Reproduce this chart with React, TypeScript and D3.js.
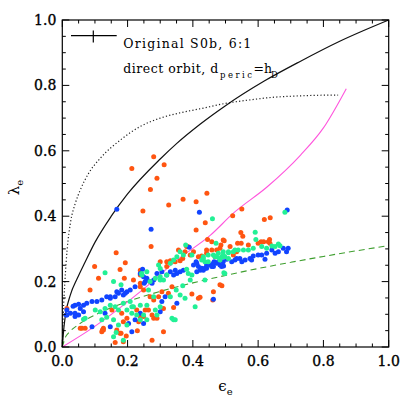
import React from 'react';
import * as d3 from 'd3';

const W = 409;
const H = 409;
const PLOT = { left: 62.3, right: 388.7, top: 20, bottom: 347 };

const xTicks = [0, 0.2, 0.4, 0.6, 0.8, 1.0];
const yTicks = [0, 0.2, 0.4, 0.6, 0.8, 1.0];
const tickLabels = ['0.0', '0.2', '0.4', '0.6', '0.8', '1.0'];

const solidE = [0, 0.005, 0.01, 0.025, 0.046, 0.07, 0.1, 0.15, 0.2, 0.3, 0.35, 0.423, 0.5, 0.62, 0.73, 0.85, 1.0];
const solidL = [0, 0.06, 0.1, 0.16, 0.21, 0.26, 0.32, 0.4, 0.468, 0.575, 0.622, 0.682, 0.738, 0.814, 0.874, 0.935, 1.0];

const dottedE = [0, 0.003, 0.008, 0.015, 0.025, 0.04, 0.055, 0.08, 0.117, 0.178, 0.24, 0.3, 0.36, 0.42, 0.5, 0.577, 0.65, 0.73, 0.8, 0.845];
const dottedL = [0, 0.1, 0.2, 0.3, 0.38, 0.44, 0.48, 0.53, 0.578, 0.633, 0.675, 0.7, 0.716, 0.728, 0.745, 0.756, 0.764, 0.768, 0.77, 0.77];

const magentaE = [0, 0.095, 0.2, 0.264, 0.35, 0.454, 0.525, 0.628, 0.73, 0.8, 0.87];
const magentaL = [0, 0.06, 0.138, 0.19, 0.265, 0.342, 0.41, 0.49, 0.587, 0.67, 0.79];

const dashedE = [0, 0.01, 0.02, 0.05, 0.1, 0.15, 0.2, 0.3, 0.4, 0.5, 0.6, 0.7, 0.8, 0.9, 1.0];
const dashedL = [0, 0.031, 0.044, 0.069, 0.098, 0.12, 0.139, 0.17, 0.196, 0.219, 0.24, 0.259, 0.277, 0.294, 0.31];

// Scatter data [epsilon, lambda]
const orangePts: [number, number][] = [
  [0.28, 0.582], [0.213, 0.546], [0.312, 0.557], [0.29, 0.516], [0.27, 0.482], [0.37, 0.452], [0.443, 0.47],
  [0.41, 0.444], [0.326, 0.434], [0.247, 0.416], [0.438, 0.38], [0.41, 0.358],
  [0.55, 0.422], [0.522, 0.401], [0.637, 0.395], [0.619, 0.39], [0.496, 0.325], [0.547, 0.35], [0.553, 0.339],
  [0.548, 0.317], [0.617, 0.322], [0.635, 0.329], [0.636, 0.317], [0.489, 0.187],
  [0.631, 0.322], [0.609, 0.322], [0.6, 0.317], [0.57, 0.312], [0.537, 0.317], [0.483, 0.302], [0.463, 0.169], [0.422, 0.152],
  [0.272, 0.307], [0.445, 0.329], [0.486, 0.312], [0.384, 0.307], [0.376, 0.291], [0.392, 0.281], [0.369, 0.271],
  [0.361, 0.264], [0.346, 0.261], [0.331, 0.264], [0.32, 0.261], [0.442, 0.287], [0.458, 0.297], [0.468, 0.276],
  [0.427, 0.278], [0.483, 0.19], [0.461, 0.144], [0.417, 0.149], [0.397, 0.162], [0.305, 0.169], [0.295, 0.154],
  [0.325, 0.164], [0.269, 0.154], [0.275, 0.098], [0.29, 0.088], [0.28, 0.088], [0.341, 0.121], [0.31, 0.047],
  [0.275, 0.021], [0.249, 0.093], [0.239, 0.184], [0.249, 0.174],
  [0.165, 0.288], [0.099, 0.246], [0.111, 0.21], [0.177, 0.237], [0.193, 0.258], [0.239, 0.235], [0.239, 0.22],
  [0.085, 0.174], [0.014, 0.118], [0.152, 0.113], [0.182, 0.103], [0.198, 0.088], [0.228, 0.113], [0.254, 0.113],
  [0.239, 0.093], [0.187, 0.077], [0.126, 0.057], [0.121, 0.047], [0.06, 0.057], [0.07, 0.057], [0.177, 0.042], [0.187, 0.016],
  [0.123, 0.052], [0.162, 0.014], [0.18, 0.042], [0.196, 0.034], [0.23, 0.05],
  [0.356, 0.297], [0.381, 0.307], [0.402, 0.291], [0.417, 0.276], [0.442, 0.297], [0.458, 0.322], [0.473, 0.297],
  [0.493, 0.327], [0.514, 0.307], [0.524, 0.281], [0.534, 0.291],
  [0.19, 0.21], [0.218, 0.205], [0.239, 0.195], [0.269, 0.2], [0.3, 0.261], [0.32, 0.246], [0.336, 0.184],
  [0.28, 0.144], [0.31, 0.118], [0.234, 0.077], [0.264, 0.113], [0.167, 0.052], [0.126, 0.052], [0.055, 0.057],
];

const bluePts: [number, number][] = [
  [0.167, 0.421], [0.42, 0.412], [0.272, 0.36], [0.689, 0.419], [0.494, 0.248],
  [0.692, 0.302], [0.687, 0.291], [0.677, 0.302], [0.662, 0.291], [0.652, 0.287], [0.642, 0.297], [0.626, 0.287],
  [0.611, 0.281], [0.6, 0.281], [0.585, 0.278], [0.575, 0.271], [0.56, 0.266], [0.55, 0.261], [0.544, 0.271],
  [0.529, 0.266], [0.519, 0.261], [0.504, 0.268], [0.493, 0.261], [0.483, 0.251], [0.473, 0.256], [0.463, 0.246],
  [0.453, 0.251], [0.442, 0.241], [0.432, 0.235], [0.621, 0.268], [0.58, 0.266], [0.463, 0.146],
  [0.389, 0.305], [0.41, 0.261], [0.402, 0.251], [0.417, 0.246], [0.422, 0.235], [0.412, 0.23], [0.437, 0.241],
  [0.458, 0.246], [0.465, 0.261], [0.371, 0.235], [0.361, 0.23], [0.351, 0.225], [0.341, 0.22],
  [0.28, 0.205], [0.249, 0.215], [0.259, 0.205], [0.275, 0.195], [0.239, 0.225], [0.251, 0.195], [0.305, 0.139],
  [0.351, 0.134], [0.315, 0.154], [0.3, 0.108], [0.249, 0.072],
  [0.254, 0.2], [0.182, 0.174], [0.172, 0.164], [0.187, 0.159], [0.198, 0.169], [0.162, 0.154], [0.147, 0.149],
  [0.136, 0.154], [0.121, 0.144], [0.106, 0.139], [0.091, 0.139], [0.075, 0.134], [0.065, 0.128], [0.05, 0.131],
  [0.039, 0.128], [0.033, 0.125], [0.014, 0.113], [0.025, 0.103], [0.039, 0.103], [0.05, 0.098], [0.065, 0.108],
  [0.055, 0.118], [0.091, 0.062], [0.147, 0.062], [0.203, 0.072], [0.223, 0.083], [0.213, 0.047], [0.012, 0.098],
  [0.412, 0.256], [0.427, 0.241], [0.442, 0.251], [0.463, 0.256], [0.478, 0.261], [0.488, 0.246], [0.534, 0.271],
  [0.246, 0.238], [0.259, 0.21], [0.223, 0.184], [0.208, 0.174], [0.193, 0.164], [0.167, 0.169], [0.147, 0.154],
  [0.29, 0.225], [0.305, 0.23], [0.32, 0.22], [0.331, 0.23], [0.346, 0.235], [0.239, 0.103], [0.131, 0.103],
  [0.039, 0.093], [0.014, 0.098],
];

const greenPts: [number, number][] = [
  [0.46, 0.392], [0.682, 0.412], [0.591, 0.351], [0.593, 0.329], [0.489, 0.276], [0.495, 0.227],
  [0.662, 0.315], [0.667, 0.31], [0.652, 0.307], [0.642, 0.309], [0.626, 0.302], [0.611, 0.307], [0.585, 0.302],
  [0.57, 0.297], [0.555, 0.297], [0.539, 0.297], [0.524, 0.291], [0.509, 0.288], [0.493, 0.291], [0.478, 0.287],
  [0.463, 0.281], [0.447, 0.281], [0.432, 0.276], [0.427, 0.266], [0.498, 0.225], [0.437, 0.205],
  [0.471, 0.317], [0.378, 0.312], [0.361, 0.291], [0.351, 0.276], [0.341, 0.266], [0.331, 0.256], [0.437, 0.261],
  [0.447, 0.261], [0.473, 0.276], [0.483, 0.266], [0.498, 0.276], [0.509, 0.271], [0.381, 0.238], [0.386, 0.225],
  [0.397, 0.22], [0.392, 0.205], [0.369, 0.187], [0.349, 0.174], [0.361, 0.159], [0.376, 0.149], [0.407, 0.123],
  [0.3, 0.215], [0.285, 0.21], [0.269, 0.2], [0.31, 0.205], [0.32, 0.22], [0.239, 0.128], [0.259, 0.128],
  [0.259, 0.083], [0.29, 0.098], [0.336, 0.088], [0.341, 0.083], [0.285, 0.113],
  [0.131, 0.227], [0.157, 0.2], [0.243, 0.225], [0.101, 0.113], [0.116, 0.108], [0.131, 0.118], [0.147, 0.128],
  [0.162, 0.123], [0.172, 0.113], [0.187, 0.134], [0.208, 0.139], [0.218, 0.123], [0.198, 0.113], [0.121, 0.083],
  [0.136, 0.091], [0.065, 0.085], [0.172, 0.067], [0.213, 0.103], [0.228, 0.098], [0.239, 0.083], [0.157, 0.031],
  [0.249, 0.098], [0.165, 0.044], [0.187, 0.021],
  [0.371, 0.281], [0.397, 0.281], [0.432, 0.271], [0.468, 0.276], [0.493, 0.281], [0.509, 0.291], [0.529, 0.297],
  [0.483, 0.271], [0.295, 0.251], [0.259, 0.23], [0.3, 0.24],
  [0.18, 0.19], [0.244, 0.22], [0.3, 0.205], [0.264, 0.174], [0.28, 0.154], [0.3, 0.123], [0.331, 0.154],
  [0.346, 0.083], [0.213, 0.123], [0.198, 0.067], [0.157, 0.083], [0.07, 0.088],
];

const ORANGE = '#ff5511';
const BLUE = '#1144ff';
const GREEN = '#22f095';

export default function App() {
  const x = d3.scaleLinear().domain([0, 1]).range([PLOT.left, PLOT.right]);
  const y = d3.scaleLinear().domain([0, 1]).range([PLOT.bottom, PLOT.top]);
  const smooth = d3.line<[number, number]>().x(d => x(d[0])).y(d => y(d[1])).curve(d3.curveMonotoneX);
  const zip = (a: number[], b: number[]) => a.map((v, i) => [v, b[i]] as [number, number]);

  const minor = d3.range(0, 1.0001, 0.05);
  const font = 'DejaVu Serif';

  return (
    <svg width={W} height={H} style={{ position: 'absolute', left: 0, top: 0, background: '#fff' }}>
      <rect x={0} y={0} width={W} height={H} fill="#fff" />
      {/* curves */}
      <path d={smooth(zip(dashedE, dashedL)) || ''} fill="none" stroke="#3f9f2f" strokeWidth={1.1} strokeDasharray="6 4" />
      <path d={smooth(zip(magentaE, magentaL)) || ''} fill="none" stroke="#ff55dd" strokeWidth={1.1} />
      <path d={smooth(zip(dottedE, dottedL)) || ''} fill="none" stroke="#222" strokeWidth={1.2} strokeDasharray="1.2 2.2" />
      <path d={smooth(zip(solidE, solidL)) || ''} fill="none" stroke="#111" strokeWidth={1.2} />
      {/* points */}
      {orangePts.map((p, i) => <circle key={'o' + i} cx={x(p[0])} cy={y(p[1])} r={2.5} fill={ORANGE} />)}
      {bluePts.map((p, i) => <circle key={'b' + i} cx={x(p[0])} cy={y(p[1])} r={2.5} fill={BLUE} />)}
      {greenPts.map((p, i) => <circle key={'g' + i} cx={x(p[0])} cy={y(p[1])} r={2.5} fill={GREEN} />)}
      {/* frame */}
      <rect x={PLOT.left} y={PLOT.top} width={PLOT.right - PLOT.left} height={PLOT.bottom - PLOT.top} fill="none" stroke="#000" strokeWidth={1.2} />
      {minor.map((v, i) => {
        const major = i % 4 === 0;
        const len = major ? 7 : 3.5;
        return (
          <g key={'t' + i} stroke="#000" strokeWidth={1}>
            <line x1={x(v)} x2={x(v)} y1={PLOT.bottom} y2={PLOT.bottom - len} />
            <line x1={x(v)} x2={x(v)} y1={PLOT.top} y2={PLOT.top + len} />
            <line y1={y(v)} y2={y(v)} x1={PLOT.left} x2={PLOT.left + len} />
            <line y1={y(v)} y2={y(v)} x1={PLOT.right} x2={PLOT.right - len} />
          </g>
        );
      })}
      {xTicks.map((v, i) => (
        <text key={'xl' + i} x={x(v)} y={PLOT.bottom + 19} textAnchor="middle" fontFamily={font} fontSize={14} fill="#000" stroke="#000" strokeWidth={0.35}>{tickLabels[i]}</text>
      ))}
      {yTicks.map((v, i) => (
        <text key={'yl' + i} x={PLOT.left - 6} y={y(v) + 5} textAnchor="end" fontFamily={font} fontSize={14} fill="#000" stroke="#000" strokeWidth={0.35}>{tickLabels[i]}</text>
      ))}
      {/* axis titles */}
      <text x={x(0.5)} y={391} textAnchor="middle" fontFamily={font} fontSize={15} fill="#000">
        ϵ<tspan fontSize={10} dy={4}>e</tspan>
      </text>
      <text transform={`translate(19,${y(0.5) + 4}) rotate(-90)`} textAnchor="middle" fontFamily={font} fontSize={15} fill="#000">
        λ<tspan fontSize={10} dy={4}>e</tspan>
      </text>
      {/* legend */}
      <line x1={71} x2={116.7} y1={35.7} y2={35.7} stroke="#000" strokeWidth={1.2} />
      <line x1={93.3} x2={93.3} y1={30.5} y2={42.5} stroke="#000" strokeWidth={1.2} />
      <text x={123.3} y={48.3} fontFamily={font} fontSize={12.5} fill="#000" textLength={128} lengthAdjust="spacing">Original S0b, 6:1</text>
      <text x={123.3} y={73.3} fontFamily={font} fontSize={12.5} fill="#000" textLength={95} lengthAdjust="spacing">direct orbit, d</text>
      <text x={220} y={78} fontFamily={font} fontSize={8.5} fill="#000" textLength={32} lengthAdjust="spacing">peric</text>
      <text x={253.5} y={73.3} fontFamily={font} fontSize={12.5} fill="#000">=h</text>
      <text x={271} y={77.5} fontFamily={font} fontSize={8.5} fill="#000">D</text>
    </svg>
  );
}
